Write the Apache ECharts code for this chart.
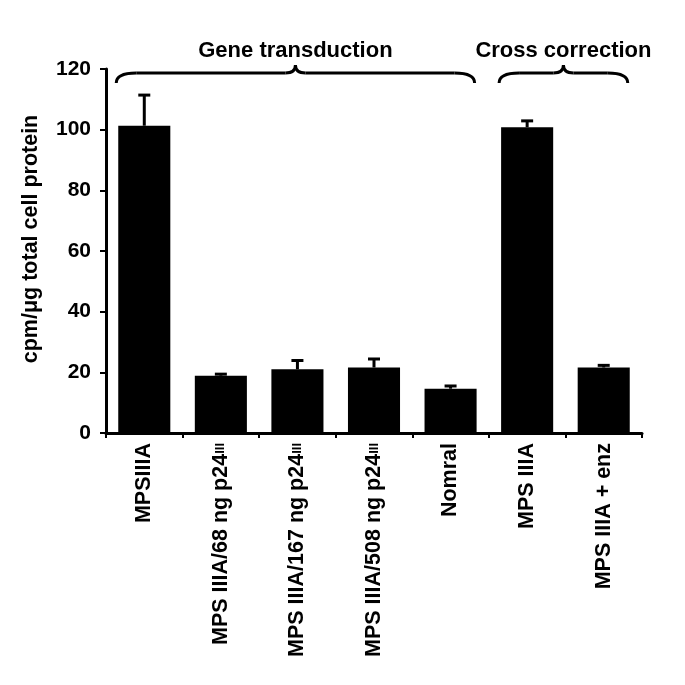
<!DOCTYPE html>
<html>
<head>
<meta charset="utf-8">
<script src="https://cdn.jsdelivr.net/npm/echarts@6/dist/echarts.min.js"></script>
<style>html,body{margin:0;padding:0;background:#fff;}#c{width:685px;height:685px;}</style>
</head>
<body>
<div id="c"></div>
<script>
const categories = ['MPSIIIA', 'MPS IIIA/68 ng p24Ⅲ', 'MPS IIIA/167 ng p24Ⅲ', 'MPS IIIA/508 ng p24Ⅲ', 'Nomral', 'MPS IIIA', 'MPS IIIA + enz'];
const values = [101.3, 18.9, 21.0, 21.6, 14.6, 100.8, 21.6];
const errorTops = [111.4, 19.4, 23.9, 24.4, 15.5, 102.9, 22.3];
const yTicks = [0, 20, 40, 60, 80, 100, 120];
const groups = [
  {name: 'Gene transduction', from: 0, to: 4},
  {name: 'Cross correction', from: 5, to: 6}
];
const FONT = 'Liberation Sans';

const chart = echarts.init(document.getElementById('c'));
const option = {
  animation: false,
  backgroundColor: '#fff',
  grid: {left: 106, right: 43, top: 69, bottom: 252},
  xAxis: {
    type: 'category',
    data: categories,
    axisLine: {lineStyle: {color: '#000', width: 3}},
    axisTick: {show: true, length: 5, lineStyle: {color: '#000', width: 2}},
    axisLabel: {
      interval: 0, rotate: 90, margin: 10,
      color: '#000', fontFamily: FONT, fontWeight: 'bold', fontSize: 21.5,
      formatter: function (v) { return v.replace('Ⅲ', '{s|III}'); },
      rich: {s: {fontFamily: FONT, fontWeight: 'bold', fontSize: 13, color: '#000'}}
    }
  },
  yAxis: {
    type: 'value', min: 0, max: 120, interval: 20,
    name: 'cpm/μg total cell protein',
    nameLocation: 'middle', nameGap: 64,
    nameTextStyle: {color: '#000', fontFamily: FONT, fontWeight: 'bold', fontSize: 21.5, padding: [0, 0, 0, 24]},
    axisLine: {show: true, lineStyle: {color: '#000', width: 3}},
    axisTick: {show: true, length: 6, lineStyle: {color: '#000', width: 2}},
    splitLine: {show: false},
    axisLabel: {
      color: '#000', fontFamily: FONT, fontWeight: 'bold', fontSize: 21, margin: 15,
      formatter: function (v) { return yTicks.indexOf(v) >= 0 ? String(v) : ''; }
    }
  },
  series: [
    {
      type: 'bar', data: values, barWidth: '68%',
      itemStyle: {color: '#000'}
    },
    {
      type: 'custom',
      data: values.map(function (v, i) { return [i, v, errorTops[i]]; }),
      z: 3,
      renderItem: function (params, api) {
        const base = api.coord([api.value(0), api.value(1)]);
        const top = api.coord([api.value(0), api.value(2)]);
        const hw = 6;
        const style = {stroke: '#000', lineWidth: 3};
        return {
          type: 'group',
          children: [
            {type: 'line', shape: {x1: base[0], y1: base[1], x2: top[0], y2: top[1]}, style: style},
            {type: 'line', shape: {x1: top[0] - hw, y1: top[1], x2: top[0] + hw, y2: top[1]}, style: style}
          ]
        };
      }
    }
  ]
};
chart.setOption(option);

// Group braces, positioned from the category scale
const catW = chart.convertToPixel({xAxisIndex: 0}, 1) - chart.convertToPixel({xAxisIndex: 0}, 0);
const halfBar = catW * 0.68 / 2;
const yTop = chart.convertToPixel({yAxisIndex: 0}, 120);
const elements = [];
const bs = {fill: null, stroke: '#000', lineWidth: 3};
groups.forEach(function (g) {
  const x1 = chart.convertToPixel({xAxisIndex: 0}, g.from) - halfBar - 2;
  const x2 = chart.convertToPixel({xAxisIndex: 0}, g.to) + halfBar - 2;
  const xm = (x1 + x2) / 2;
  const yb = yTop + 14, yl = yTop + 4, yt = yTop - 4;
  const r = 20, rt = 10;
  elements.push({type: 'bezierCurve', shape: {x1: x1, y1: yb, cpx1: x1, cpy1: yl, x2: x1 + r, y2: yl}, style: bs});
  elements.push({type: 'line', shape: {x1: x1 + r, y1: yl, x2: xm - rt, y2: yl}, style: bs});
  elements.push({type: 'bezierCurve', shape: {x1: xm - rt, y1: yl, cpx1: xm, cpy1: yl, x2: xm, y2: yt}, style: bs});
  elements.push({type: 'bezierCurve', shape: {x1: xm, y1: yt, cpx1: xm, cpy1: yl, x2: xm + rt, y2: yl}, style: bs});
  elements.push({type: 'line', shape: {x1: xm + rt, y1: yl, x2: x2 - r, y2: yl}, style: bs});
  elements.push({type: 'bezierCurve', shape: {x1: x2 - r, y1: yl, cpx1: x2, cpy1: yl, x2: x2, y2: yb}, style: bs});
  elements.push({
    type: 'text', x: xm, y: yTop - 18,
    style: {text: g.name, fill: '#000', font: 'bold 22px "' + FONT + '"', align: 'center', verticalAlign: 'middle'}
  });
});
chart.setOption({graphic: {elements: elements}});
</script>
</body>
</html>
